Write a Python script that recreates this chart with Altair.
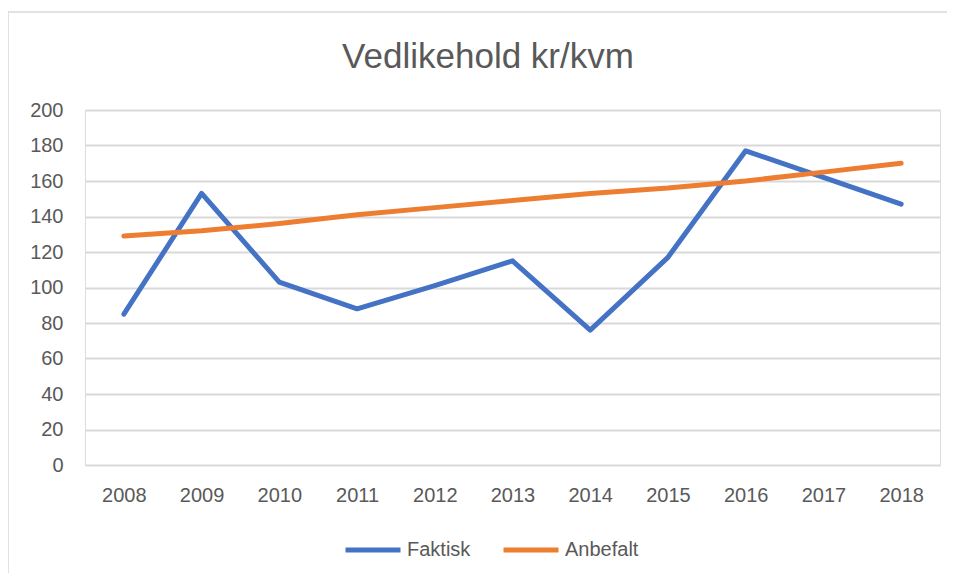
import altair as alt
import pandas as pd

years = ["2008", "2009", "2010", "2011", "2012", "2013", "2014", "2015", "2016", "2017", "2018"]
faktisk = [85, 153, 103, 88, 101, 115, 76, 117, 177, 162, 147]
anbefalt = [129, 132, 136, 141, 145, 149, 153, 156, 160, 165, 170]
series_names = ["Faktisk", "Anbefalt"]
series_colors = ["#4472C4", "#ED7D31"]
title_text = "Vedlikehold kr/kvm"

rows = []
for i, y in enumerate(years):
    rows.append({"year": y, "serie": "Faktisk", "value": faktisk[i]})
    rows.append({"year": y, "serie": "Anbefalt", "value": anbefalt[i]})
df = pd.DataFrame(rows)

FONT = "Liberation Sans"
GRAY = "#595959"

one = pd.DataFrame({"t": [title_text]})

border_left = alt.Chart(one).mark_rule(stroke="#D9D9D9", strokeWidth=1.5).encode(
    x=alt.value(-77), y=alt.value(-98), y2=alt.value(470)
)
border_top = alt.Chart(one).mark_rule(stroke="#D9D9D9", strokeWidth=1.5).encode(
    x=alt.value(-77), x2=alt.value(870), y=alt.value(-98)
)

title = alt.Chart(one).mark_text(
    font=FONT, fontSize=35, color=GRAY, align="center", baseline="middle"
).encode(
    text="t:N", x=alt.value(403), y=alt.value(-53)
)

lines = alt.Chart(df).mark_line(strokeWidth=5, strokeCap="round", strokeJoin="round").encode(
    x=alt.X("year:O", sort=years, title=None,
            axis=alt.Axis(labelAngle=0, labelFontSize=20, labelColor=GRAY, labelFont=FONT,
                          labelPadding=20, ticks=False, domain=False, grid=False)),
    y=alt.Y("value:Q", title=None, scale=alt.Scale(domain=[0, 200], nice=False),
            axis=alt.Axis(values=list(range(0, 201, 20)), labelFontSize=20, labelColor=GRAY,
                          labelFont=FONT, labelPadding=22, ticks=False, domain=False,
                          gridColor="#D9D9D9", gridWidth=2)),
    color=alt.Color("serie:N", sort=series_names,
                    scale=alt.Scale(domain=series_names, range=series_colors),
                    legend=alt.Legend(title=None, orient="none", legendX=258, legendY=410,
                                      direction="horizontal", symbolType="stroke",
                                      symbolSize=3025, symbolStrokeWidth=5,
                                      labelFontSize=20, labelColor=GRAY, labelFont=FONT,
                                      columnPadding=22, labelOffset=4)),
    order=alt.Order("serie:N"),
)

chart = alt.layer(border_left, border_top, title, lines).properties(
    width=855, height=355,
    autosize=alt.AutoSizeParams(type="none"),
    padding={"left": 77, "top": 102, "right": 7, "bottom": 108},
).configure_view(stroke=None).configure(background="white")

chart.save("out.html", embed_options={"renderer": "svg", "actions": False})
